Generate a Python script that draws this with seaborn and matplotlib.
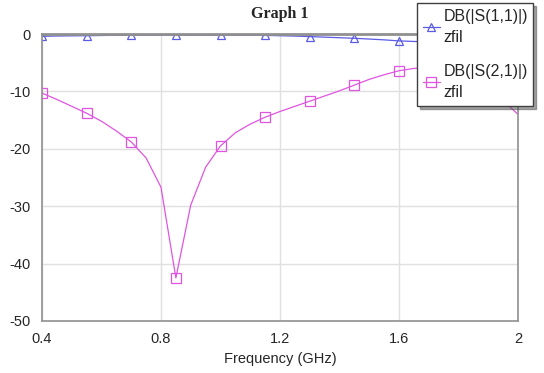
import matplotlib
matplotlib.use("Agg")
from matplotlib import pyplot as plt
import seaborn as sns
import pandas as pd

# frequency sweep (GHz), 0.05 GHz steps
freq = [0.40, 0.45, 0.50, 0.55, 0.60, 0.65, 0.70, 0.75, 0.80, 0.85, 0.90,
        0.95, 1.00, 1.05, 1.10, 1.15, 1.20, 1.25, 1.30, 1.35, 1.40, 1.45,
        1.50, 1.55, 1.60, 1.65, 1.70, 1.75, 1.80, 1.85, 1.90, 1.95, 2.00]

s11 = [-0.40, -0.35, -0.32, -0.30, -0.26, -0.22, -0.20, -0.20, -0.20, -0.20, -0.20,
       -0.20, -0.20, -0.22, -0.23, -0.25, -0.30, -0.36, -0.45, -0.55, -0.65, -0.75,
       -0.88, -1.02, -1.20, -1.30, -1.35, -1.30, -1.10, -0.80, -0.50, -0.30, -0.20]

s21 = [-10.3, -11.4, -12.6, -13.8, -15.2, -16.9, -18.8, -21.6, -26.7, -42.5, -29.8,
       -23.2, -19.5, -17.2, -15.7, -14.5, -13.5, -12.6, -11.7, -10.8, -9.9, -8.9,
       -7.9, -7.1, -6.4, -6.0, -5.8, -5.9, -6.5, -7.8, -9.5, -11.6, -14.0]

x_ticks = [0.4, 0.8, 1.2, 1.6, 2.0]
x_tick_labels = ["0.4", "0.8", "1.2", "1.6", "2"]
y_ticks = [0, -10, -20, -30, -40, -50]

df = pd.DataFrame({"freq": freq, "s11": s11, "s21": s21})

sns.set_style("white")
plt.rcParams["font.family"] = ["Liberation Sans", "DejaVu Sans"]
plt.rcParams["axes.unicode_minus"] = False

fig = plt.figure(figsize=(5.44, 3.73), dpi=100)
ax = fig.add_axes([42 / 544, 1 - 321 / 373, 476 / 544, 287 / 373])

sns.lineplot(data=df, x="freq", y="s11", ax=ax, color="#5a5ae6", linewidth=0.9,
             marker="^", markevery=3, markersize=6, markerfacecolor="none",
             markeredgecolor="#5a5ae6", markeredgewidth=0.9,
             label="DB(|S(1,1)|)\nzfil")
sns.lineplot(data=df, x="freq", y="s21", ax=ax, color="#e055e0", linewidth=0.9,
             marker="s", markevery=3, markersize=7, markerfacecolor="none",
             markeredgecolor="#e055e0", markeredgewidth=0.9,
             label="DB(|S(2,1)|)\nzfil")

ax.set_xlim(0.4, 2.0)
ax.set_ylim(-50, 0)
ax.set_xticks(x_ticks)
ax.set_xticklabels(x_tick_labels)
ax.set_yticks(y_ticks)
ax.tick_params(axis="both", length=0, labelsize=10.5, pad=8)
ax.grid(True, color="#e0e0e0", linewidth=1)
for s in ax.spines.values():
    s.set_color("#909090")
    s.set_linewidth(1.2)
ax.spines["top"].set_linewidth(2)

ax.set_xlabel("Frequency (GHz)", fontsize=10.5, labelpad=4)
ax.set_ylabel("")
fig.text(280 / 544, 1 - 14 / 373, "Graph 1", ha="center", va="center",
         fontsize=11.5, fontweight="bold", family="Liberation Serif")

leg = ax.legend(loc="upper left", bbox_to_anchor=(417 / 544, 1 - 3 / 373),
                bbox_transform=fig.transFigure, fontsize=11.5, frameon=True,
                fancybox=False, shadow=True, edgecolor="#404040", framealpha=1,
                labelspacing=1.15, handlelength=1.1, handletextpad=0.2,
                borderpad=0.35, borderaxespad=0)
for t in leg.get_texts():
    t.set_linespacing(1.55)

plt.savefig("out.png", dpi=100)
